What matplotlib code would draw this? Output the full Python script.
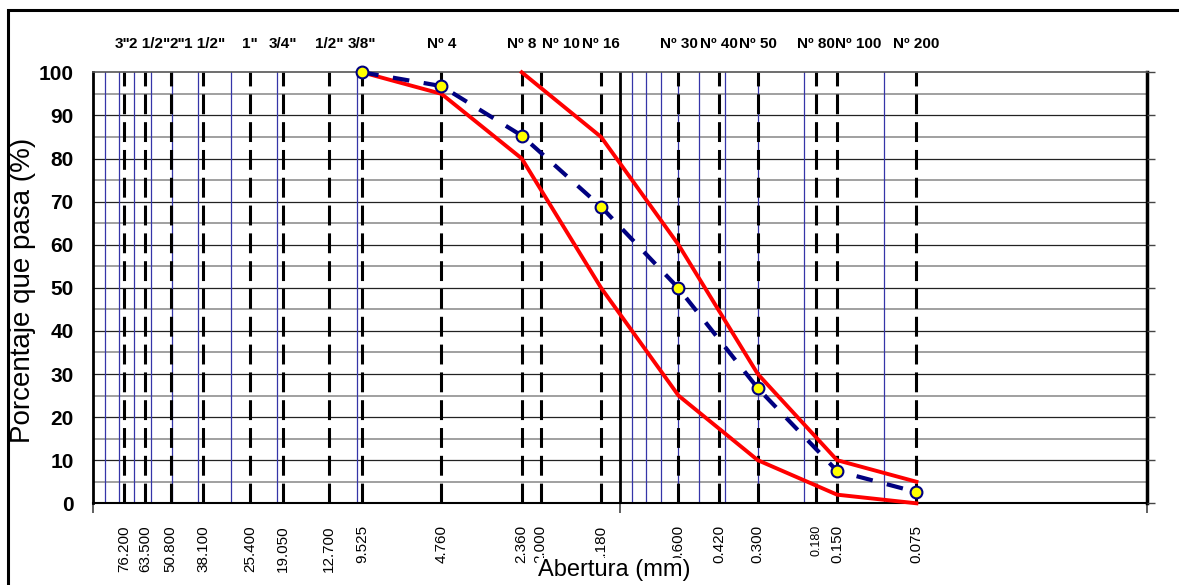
import matplotlib
matplotlib.use('Agg')
import matplotlib.pyplot as plt
import matplotlib.transforms as mtransforms
from matplotlib.patches import Rectangle

plt.rcParams['font.family'] = ['Liberation Sans', 'DejaVu Sans']

# Sieve openings (mm) and their names
sieve_mm = [76.2, 63.5, 50.8, 38.1, 25.4, 19.05, 12.7, 9.525, 4.76, 2.36, 2.0,
            1.18, 0.6, 0.42, 0.3, 0.18, 0.15, 0.075]
sieve_names = ['3"', '2 1/2"', '2"', '1 1/2"', '1"', '3/4"', '1/2"', '3/8"',
               'Nº 4', 'Nº 8', 'Nº 10', 'Nº 16', 'Nº 30', 'Nº 40', 'Nº 50',
               'Nº 80', 'Nº 100', 'Nº 200']
sieve_labels = ['76.200', '63.500', '50.800', '38.100', '25.400', '19.050',
                '12.700', '9.525', '4.760', '2.360', '2.000', '1.180', '0.600',
                '0.420', '0.300', '0.180', '0.150', '0.075']

# Sample gradation
sample_mm = [9.525, 4.76, 2.36, 1.18, 0.6, 0.3, 0.15, 0.075]
sample_pass = [100.0, 96.8, 85.3, 68.8, 49.9, 26.7, 7.5, 2.6]

# Specification limits
upper_mm = [2.36, 1.18, 0.6, 0.3, 0.15, 0.075]
upper_pass = [100, 85, 60, 30, 10, 5]
lower_mm = [9.525, 4.76, 2.36, 1.18, 0.6, 0.3, 0.15, 0.075]
lower_pass = [100, 95, 80, 50, 25, 10, 2, 0]

# Thin blue reference lines
blue_grid = [90, 80, 70, 60, 50, 40, 30, 20, 10,
             0.9, 0.8, 0.7, 0.6, 0.5, 0.4, 0.3, 0.2, 0.1]

# small sideways shifts (pixels) of crowded sieve names
name_shift = {'3"': -2, '2 1/2"': 5, '2"': 7, '1 1/2"': 1,
              'Nº 10': 20, 'Nº 100': 21}

W, H = 1179, 585
fig = plt.figure(figsize=(W / 100, H / 100), dpi=100)
ax = fig.add_axes([93 / W, 1 - 503.3 / H, (1147 - 93) / W, (503.3 - 72.3) / H])

ax.set_xscale('log')
ax.set_xlim(100, 0.01)
ax.set_ylim(0, 100)

# horizontal grid every 5 %
for y in range(5, 100, 5):
    if y % 10 == 0:
        ax.axhline(y, color='#222222', lw=0.9, zorder=1)
    else:
        ax.axhline(y, color='#999999', lw=1.3, zorder=1)

for xv in blue_grid:
    ax.axvline(xv, color='#3535a8', lw=0.9, zorder=1)
ax.axvline(1, color='black', lw=2.0, zorder=1)

# sieve lines
for d in sieve_mm:
    ax.plot([d, d], [0, 100], color='black', lw=2.2,
            linestyle=(0, (6.5, 2.6)), zorder=2)

ax.plot(upper_mm, upper_pass, color='#ff0000', lw=2.8, zorder=3, clip_on=False)
ax.plot(lower_mm, lower_pass, color='#ff0000', lw=2.8, zorder=3, clip_on=False)
ax.plot(sample_mm, sample_pass, color='#000080', lw=3.0,
        linestyle=(0, (4, 3.5)), marker='o', markersize=8.5,
        markerfacecolor='#ffff00', markeredgecolor='#000080',
        markeredgewidth=1.5, zorder=4, clip_on=False)

# axes styling
ax.spines['left'].set_linewidth(2.0)
ax.spines['right'].set_linewidth(2.5)
ax.spines['top'].set_color('#555555')
ax.spines['top'].set_linewidth(1.2)
ax.spines['bottom'].set_linewidth(1.5)

ax.set_yticks(range(0, 101, 10))
ax.set_yticklabels([str(v) for v in range(0, 101, 10)],
                   fontsize=15, fontweight='bold')
ax.tick_params(axis='y', length=0, pad=14)
ax.set_xticks([100, 1, 0.01])
ax.set_xticklabels(['', '', ''])
ax.xaxis.set_minor_locator(matplotlib.ticker.NullLocator())
ax.tick_params(axis='x', length=7, width=1.2, color='#444444', direction='out')

ax2 = ax.twinx()
ax2.set_ylim(0, 100)
ax2.set_yticks(range(0, 101, 10))
ax2.tick_params(axis='y', length=6, width=1.0, color='#444444', labelright=False)
for s in ax2.spines.values():
    s.set_visible(False)

# sieve names on top and openings below
trans = mtransforms.blended_transform_factory(ax.transData, fig.transFigure)
for d, name, lab in zip(sieve_mm, sieve_names, sieve_labels):
    dx = name_shift.get(name, 0) / 100
    t = trans + mtransforms.ScaledTranslation(dx, 0, fig.dpi_scale_trans)
    ax.text(d, 1 - 44 / H, name, transform=t, ha='center', va='center',
            fontsize=11, fontweight='bold')
    size = 9 if lab == '0.180' else 11
    ax.text(d, 1 - 525 / H, lab, transform=trans, ha='center', va='top',
            rotation=90, fontsize=size)

fig.text(614 / W, 1 - 570 / H, 'Abertura (mm)', ha='center',
         va='center', fontsize=17,
         bbox=dict(facecolor='white', edgecolor='none', pad=0.5))
fig.text(23 / W, 1 - 290 / H, 'Porcentaje que pasa (%)', rotation=90,
         ha='center', va='center', fontsize=20)

# outer chart frame (cut off on the right and bottom)
fig.patches.append(Rectangle((8 / W, -0.1), 1.2, 1.1 - 10 / H,
                             transform=fig.transFigure, fill=False,
                             edgecolor='black', lw=2.2))

fig.savefig('out.png', dpi=100)
